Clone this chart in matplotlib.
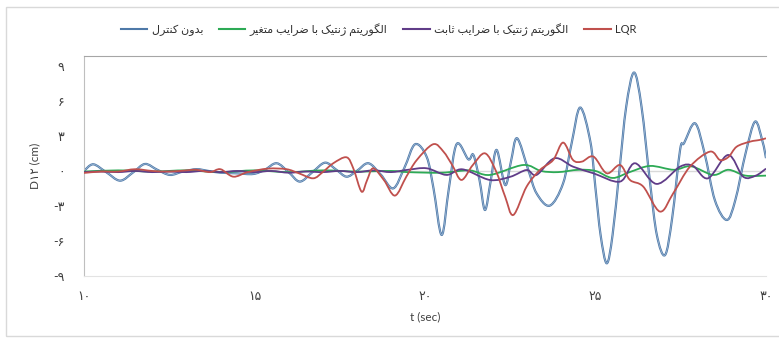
import numpy as np
import matplotlib
matplotlib.use("Agg")
import matplotlib.pyplot as plt
from matplotlib.path import Path
from matplotlib.patches import PathPatch, Rectangle
from matplotlib.lines import Line2D

plt.rcParams['font.family'] = ['Lato', 'DejaVu Sans']

# values (t in sec, D12 in cm)
t_none = [10.0, 10.27, 10.65, 11.06, 11.45, 11.79, 12.15, 12.52, 12.9, 13.3, 13.65, 13.98,
          14.47, 14.96, 15.3, 15.65, 16.0, 16.33, 16.7, 17.07, 17.4, 17.7, 18.0, 18.34,
          18.7, 19.07, 19.4, 19.71, 20.05, 20.25, 20.49, 20.7, 20.93, 21.27, 21.42, 21.6,
          21.76, 21.93, 22.1, 22.35, 22.52, 22.7, 23.03, 23.27, 23.66, 24.05, 24.3, 24.55,
          24.85, 25.0, 25.15, 25.33, 25.5, 25.7, 25.9, 26.13, 26.35, 26.6, 26.8, 27.04,
          27.25, 27.48, 27.6, 27.92, 28.2, 28.5, 28.85, 29.1, 29.4, 29.68, 29.9, 30.0]
d_none = [0.0, 0.57, -0.1, -0.83, -0.1, 0.6, 0.1, -0.34, -0.05, 0.15, 0.0, -0.14,
          -0.2, -0.26, 0.1, 0.66, -0.1, -0.91, -0.1, 0.71, 0.1, -0.49, 0.0, 0.66,
          -0.3, -1.49, 0.3, 2.29, 1.2, -1.5, -5.48, -1.5, 2.31, 1.0, 1.37, -0.8,
          -3.34, -0.8, 1.8, -1.2, 0.8, 2.8, 0.08, -1.91, -2.97, -1.06, 2.37, 5.43,
          2.5, -1.5, -5.5, -7.91, -5.5, 0.0, 5.5, 8.43, 5.5, -1.0, -5.5, -7.2,
          -4.0, 1.8, 2.4, 4.08, 1.5, -2.5, -4.2, -2.5, 1.5, 4.23, 2.5, 1.1]

t_var = [10.0, 11.0, 12.0, 13.0, 14.0, 15.0, 16.0, 17.0, 18.0, 19.0, 19.5, 20.5, 21.3,
         21.9, 22.88, 23.4, 23.9, 24.5, 25.0, 25.5, 26.0, 26.6, 27.3, 27.8, 28.45, 28.9,
         29.4, 30.0]
d_var = [-0.05, 0.05, -0.05, 0.05, -0.1, 0.05, -0.1, 0.05, -0.05, 0.0, -0.1, -0.15, 0.05,
         -0.34, 0.51, 0.0, -0.1, 0.1, 0.0, -0.6, -0.1, 0.43, 0.1, 0.4, -0.34, 0.1,
         -0.4, -0.4]

t_fix = [10.0, 10.5, 11.0, 11.5, 12.0, 12.5, 13.0, 13.5, 14.0, 14.5, 15.0, 15.5, 16.0,
         16.5, 17.0, 17.5, 18.0, 18.5, 19.0, 19.5, 20.05, 20.63, 21.1, 21.9, 22.5, 22.98,
         23.27, 23.8, 24.34, 24.94, 25.72, 26.16, 26.79, 27.48, 27.86, 28.3, 28.89, 29.33,
         29.7, 30.0]
d_fix = [-0.1, -0.05, -0.1, 0.0, -0.1, -0.05, -0.1, 0.0, -0.1, 0.0, -0.1, 0.0, -0.15,
         -0.05, -0.1, 0.0, -0.1, 0.05, -0.1, 0.1, 0.23, -0.34, 0.14, -0.77, -0.5, 0.08,
         -0.34, 1.09, 0.37, -0.2, -0.91, 0.66, -1.11, 0.37, 0.43, -0.63, 1.37, -0.49,
         -0.4, 0.2]

t_lqr = [10.0, 10.5, 11.0, 11.5, 12.0, 12.5, 13.0, 13.3, 13.7, 14.0, 14.38, 14.8, 15.4,
         15.94, 16.3, 16.72, 17.0, 17.31, 17.7, 17.9, 18.14, 18.3, 18.48, 18.8, 19.12,
         19.45, 19.76, 20.24, 20.54, 20.8, 21.07, 21.4, 21.76, 22.08, 22.35, 22.59, 22.98,
         23.37, 23.76, 24.05, 24.34, 24.6, 24.94, 25.33, 25.72, 26.01, 26.4, 26.89, 27.28,
         27.77, 28.36, 28.65, 28.9, 29.14, 29.53, 29.82, 30.0]
d_lqr = [-0.17, -0.05, -0.05, 0.15, 0.0, -0.05, 0.05, 0.1, -0.1, 0.15, -0.49, -0.1, 0.2,
         0.15, -0.2, -0.63, -0.1, 0.66, 1.17, 0.2, -1.77, -0.8, 0.23, -0.8, -2.11,
         -0.5, 0.94, 2.29, 1.66, 0.5, -0.77, 0.5, 1.51, 0.0, -2.2, -3.77, -1.34,
         0.08, 0.94, 2.43, 0.94, 0.8, 1.23, -0.2, 0.51, -0.77, -1.34, -3.48, -1.91,
         0.37, 1.66, 0.94, 1.2, 2.08, 2.51, 2.66, 2.8]

x_ticks = [10, 15, 20, 25, 30]
y_ticks = [-9, -6, -3, 0, 3, 6, 9]

labels = ["بدون کنترل", "الگوریتم ژنتیک با ضرایب متغیر",
          "الگوریتم ژنتیک با ضرایب ثابت", "LQR"]
colors = ["#4E79A8", "#2DAA55", "#603C88", "#C0504D"]

# minimal Persian shaping (matplotlib has no bidi / joining support)
FORMS = {
    '\u0627': ('\uFE8D', '\uFE8E', None, None),
    '\u0628': ('\uFE8F', '\uFE90', '\uFE91', '\uFE92'),
    '\u062A': ('\uFE95', '\uFE96', '\uFE97', '\uFE98'),
    '\u062B': ('\uFE99', '\uFE9A', '\uFE9B', '\uFE9C'),
    '\u062F': ('\uFEA9', '\uFEAA', None, None),
    '\u0631': ('\uFEAD', '\uFEAE', None, None),
    '\u0632': ('\uFEAF', '\uFEB0', None, None),
    '\u0636': ('\uFEBD', '\uFEBE', '\uFEBF', '\uFEC0'),
    '\u063A': ('\uFECD', '\uFECE', '\uFECF', '\uFED0'),
    '\u0641': ('\uFED1', '\uFED2', '\uFED3', '\uFED4'),
    '\u0644': ('\uFEDD', '\uFEDE', '\uFEDF', '\uFEE0'),
    '\u0645': ('\uFEE1', '\uFEE2', '\uFEE3', '\uFEE4'),
    '\u0646': ('\uFEE5', '\uFEE6', '\uFEE7', '\uFEE8'),
    '\u0648': ('\uFEED', '\uFEEE', None, None),
    '\u0698': ('\uFB8A', '\uFB8B', None, None),
    '\u06A9': ('\uFB8E', '\uFB8F', '\uFB90', '\uFB91'),
    '\u06AF': ('\uFB92', '\uFB93', '\uFB94', '\uFB95'),
    '\u06CC': ('\uFBFC', '\uFBFD', '\uFBFE', '\uFBFF'),
}


def shape(s):
    if not any(c in FORMS for c in s):
        return s
    out = []
    for i, ch in enumerate(s):
        f = FORMS.get(ch)
        if f is None:
            out.append(ch)
            continue
        prev = FORMS.get(s[i - 1]) if i > 0 else None
        nxt = FORMS.get(s[i + 1]) if i + 1 < len(s) else None
        jp = prev is not None and prev[2] is not None
        jn = f[2] is not None and nxt is not None
        if jp and jn:
            out.append(f[3])
        elif jp:
            out.append(f[1])
        elif jn:
            out.append(f[2])
        else:
            out.append(f[0])
    return ''.join(reversed(out))


def fa_num(v):
    s = str(abs(int(v))).translate(str.maketrans("0123456789", "۰۱۲۳۴۵۶۷۸۹"))
    return ("-" if v < 0 else "") + s


def smooth_path(t, v):
    # excel style smoothed line through the read points
    pts = np.column_stack([t, v]).astype(float)
    n = len(pts)
    verts = [pts[0]]
    codes = [Path.MOVETO]
    for i in range(n - 1):
        p0 = pts[i - 1] if i > 0 else pts[i]
        p1, p2 = pts[i], pts[i + 1]
        p3 = pts[i + 2] if i + 2 < n else pts[i + 1]
        verts += [p1 + (p2 - p0) / 6, p2 - (p3 - p1) / 6, p2]
        codes += [Path.CURVE4] * 3
    return Path(verts, codes)


fig = plt.figure(figsize=(7.79, 3.40), dpi=100)
fig.patches.append(Rectangle((6 / 779, 4 / 340), 1.5, 329 / 340, transform=fig.transFigure,
                             fill=False, edgecolor="#D9D9D9", lw=1))
ax = fig.add_axes([84 / 779, 64 / 340, 682 / 779, 220 / 340])

ax.axhline(0, color="#D9D9D9", lw=1, zorder=1)

series = [(t_none, d_none), (t_var, d_var), (t_fix, d_fix), (t_lqr, d_lqr)]
for k, (t, d) in enumerate(series):
    p = smooth_path(t, d)
    lw = 1.6 if k == 0 else 1.3
    ax.add_patch(PathPatch(p, fill=False, edgecolor=colors[k], lw=lw, zorder=2 + k))
    if k == 0:
        ax.add_patch(PathPatch(p, fill=False, edgecolor="#A3BCD8", lw=0.5, zorder=2.5))

ax.set_xlim(10, 30)
ax.set_ylim(-9, 9.85)
ax.set_xticks(x_ticks)
ax.set_xticklabels([fa_num(x) for x in x_ticks])
ax.set_yticks(y_ticks)
ax.set_yticklabels([fa_num(y) for y in y_ticks])
ax.tick_params(length=0, labelsize=9, colors="#404040")
ax.tick_params(axis="y", pad=14)
ax.tick_params(axis="x", pad=10)

ax.spines["right"].set_visible(False)
ax.spines["top"].set_color("#A6A6A6")
ax.spines["left"].set_color("#BFBFBF")
ax.spines["bottom"].set_color("#E3E3E3")

ax.set_xlabel("t (sec)", fontsize=8.5, color="#404040", labelpad=7)
ax.set_ylabel("D۱۲ (cm)", fontsize=8.5, color="#404040", labelpad=9)

handles = [Line2D([], [], color=c, lw=1.5) for c in colors]
fig.legend(handles, [shape(l) for l in labels], loc="center", bbox_to_anchor=(0.486, 0.912),
           ncol=4, frameon=False, fontsize=8, handlelength=2.4, columnspacing=1.4,
           handletextpad=0.4, labelcolor="#303030")

fig.savefig("out.png", dpi=100)
